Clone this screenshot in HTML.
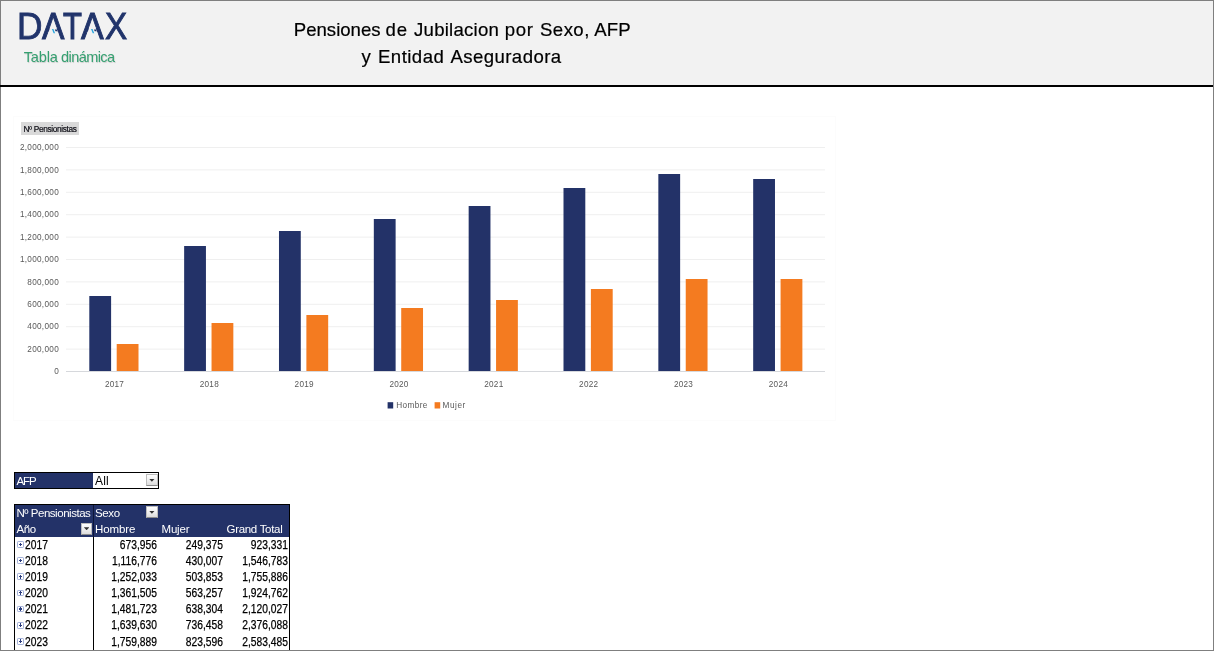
<!DOCTYPE html>
<html lang="es">
<head>
<meta charset="utf-8">
<title>Pensiones de Jubilacion por Sexo, AFP y Entidad Aseguradora</title>
<style>
  html, body { margin: 0; padding: 0; }
  body {
    width: 1214px; height: 651px; overflow: hidden; position: relative;
    background: #ffffff;
    font-family: "Liberation Sans", sans-serif;
  }
  .abs { position: absolute; }
  #frame { left: 0; top: 0; width: 1212px; height: 649px; border: 1px solid #7f7f7f; z-index: 50; pointer-events: none; }
  #hdr { left: 1px; top: 1px; width: 1212px; height: 84px; background: #f2f2f2; }
  #hline { left: 0; top: 85px; width: 1213px; z-index: 60; height: 2px; background: #000; }

  /* logo */
  #logo { left: 0; top: 4px; font-size: 37.25px; line-height: 44px; height: 44px; white-space: nowrap; color: #21346b; }
  .lg { display: inline-block; position: relative; width: 0; transform-origin: 0 0; -webkit-text-stroke: 0.85px #21346b; }
  .pa { position: absolute; overflow: visible; transform-origin: 0 0; }
  #sub { left: 0; top: 48.4px; font-size: 14.5px; line-height: 18px; height: 18px; color: #35a070; white-space: pre; text-shadow: 0.6px 0.6px 0.8px rgba(0,0,0,0.15); }
  .sw { display: inline-block; width: 0; }

  /* title */
  .tl { left: 0; height: 24px; font-size: 18.6px; line-height: 24px; color: #000; white-space: pre; }
  .tw { display: inline-block; width: 0; -webkit-text-stroke: 0.2px #000; }

  /* chart */
  #chart { left: 0; top: 0; }
  #fbtn { left: 21px; top: 122px; width: 58px; height: 13px; background: #d9d9d9; font-size: 8.3px; line-height: 15px; text-align: center; color: #101018; letter-spacing: -0.35px; white-space: pre; -webkit-text-stroke: 0.2px #101018; overflow: hidden; }

  /* pivot */
  .cell { position: absolute; white-space: pre; font-size: 11.2px; line-height: 16px; letter-spacing: -0.5px; color: #000; }
  .w { color: #fff; }
  .hd { font-size: 11.5px; }
  .r { text-align: right; }
  .num { font-size: 12.3px; letter-spacing: 0; transform: scaleX(0.835); transform-origin: 100% 50%; -webkit-text-stroke: 0.25px #000; }
  .dd { position: absolute; width: 11.4px; height: 12.4px; background: linear-gradient(#ffffff, #ececec 60%, #dcdcdc); border: 1px solid #bdbdbd; border-bottom: 1.3px solid #8c8c8c; box-sizing: border-box; }
  .dd:after { content: ""; position: absolute; left: 1.8px; top: 3.7px; width: 5.6px; height: 3px; background: #333; clip-path: polygon(0 0, 100% 0, 50% 100%); }
  .ex { position: absolute; left: 17.2px; width: 6.8px; height: 6.8px; box-sizing: border-box; border: 1px solid #a3b1da; border-radius: 1.2px; background: #fff; }
  .ex:before { content: ""; position: absolute; left: 0.6px; top: 1.8px; width: 3.6px; height: 1.2px; background: #2c3d7d; }
  .ex:after { content: ""; position: absolute; left: 1.8px; top: 0.6px; width: 1.2px; height: 3.6px; background: #2c3d7d; }
</style>
</head>
<body>
<div id="hdr" class="abs"></div>
<div id="hline" class="abs"></div>

<!-- LOGO -->
<div id="logo" class="abs"><span class="lg" style="margin-left:16.88px;transform:scaleX(0.947);-webkit-text-stroke-width:0.8px;">D</span><span class="lg" style="margin-left:25.19px;transform:scaleX(0.902);-webkit-text-stroke-width:0.95px;">A</span><span class="lg" style="margin-left:21.11px;transform:scaleX(0.831);-webkit-text-stroke-width:1.1px;">T</span><span class="lg" style="margin-left:17.70px;transform:scaleX(0.913);-webkit-text-stroke-width:0.95px;">A</span><span class="lg" style="margin-left:23.88px;transform:scaleX(0.892);-webkit-text-stroke-width:0.95px;">X</span></div>
<svg class="pa" style="left:42.07px;top:4px;transform:scaleX(0.902);" width="26" height="44" viewBox="0 0 26 44"><g transform="translate(0,35) scale(0.98) translate(0,-35)"><polygon points="9.35,22.9 16.05,22.9 18.6,29.3 6.8,29.3" fill="#f2f2f2"/><polygon points="11.2,24.8 12.9,24.8 14.8,29.1 13.1,29.1" fill="#2aa7df"/><polygon points="14.5,25.2 16.6,25.2 17.4,27.2 15.3,27.2" fill="#21346b"/></g></svg>
<svg class="pa" style="left:80.88px;top:4px;transform:scaleX(0.913);" width="26" height="44" viewBox="0 0 26 44"><g transform="translate(0,35) scale(0.98) translate(0,-35)"><polygon points="9.35,22.9 16.05,22.9 18.6,29.3 6.8,29.3" fill="#f2f2f2"/><polygon points="11.2,24.8 12.9,24.8 14.8,29.1 13.1,29.1" fill="#2aa7df"/><polygon points="14.5,25.2 16.6,25.2 17.4,27.2 15.3,27.2" fill="#21346b"/></g></svg>
<div id="sub" class="abs"><span class="sw" style="margin-left:23.72px;letter-spacing:-0.15px;">Tabla </span><span class="sw" style="margin-left:37.30px;letter-spacing:-0.561px;">dinámica</span></div>

<!-- TITLE -->
<div id="title">
<div class="tl abs" style="top:17.7px;"><span class="tw" style="margin-left:293.82px;letter-spacing:-0.009px;">Pensiones </span><span class="tw" style="margin-left:91.68px;letter-spacing:1.000px;">de </span><span class="tw" style="margin-left:28.55px;letter-spacing:0.236px;">Jubilacion </span><span class="tw" style="margin-left:90.83px;letter-spacing:0.600px;">por </span><span class="tw" style="margin-left:35.17px;letter-spacing:0.438px;">Sexo, </span><span class="tw" style="margin-left:54.28px;letter-spacing:0.112px;">AFP</span></div>
<div class="tl abs" style="top:45.3px;"><span class="tw" style="margin-left:361.50px;letter-spacing:0.000px;">y </span><span class="tw" style="margin-left:16.52px;letter-spacing:0.446px;">Entidad </span><span class="tw" style="margin-left:72.40px;letter-spacing:0.425px;">Aseguradora</span></div>
</div>

<!-- CHART -->
<svg id="chart" class="abs" width="1214" height="651" viewBox="0 0 1214 651" font-family="Liberation Sans, sans-serif">
<rect x="13.5" y="116.5" width="822" height="304" fill="none" stroke="#fcfcfc" stroke-width="1"/>
<rect x="66.0" y="348.60" width="759.0" height="1" fill="#efefef"/>
<rect x="66.0" y="326.20" width="759.0" height="1" fill="#efefef"/>
<rect x="66.0" y="303.80" width="759.0" height="1" fill="#efefef"/>
<rect x="66.0" y="281.40" width="759.0" height="1" fill="#efefef"/>
<rect x="66.0" y="259.00" width="759.0" height="1" fill="#efefef"/>
<rect x="66.0" y="236.60" width="759.0" height="1" fill="#efefef"/>
<rect x="66.0" y="214.20" width="759.0" height="1" fill="#efefef"/>
<rect x="66.0" y="191.80" width="759.0" height="1" fill="#efefef"/>
<rect x="66.0" y="169.40" width="759.0" height="1" fill="#efefef"/>
<rect x="66.0" y="147.00" width="759.0" height="1" fill="#efefef"/>
<rect x="66.0" y="371.00" width="759.0" height="1" fill="#d6d8dc"/>
<rect x="89.30" y="296" width="21.8" height="75.00" fill="#233268"/>
<rect x="116.70" y="344" width="21.8" height="27.00" fill="#f47b20"/>
<rect x="184.14" y="246" width="21.8" height="125.00" fill="#233268"/>
<rect x="211.54" y="323" width="21.8" height="48.00" fill="#f47b20"/>
<rect x="278.98" y="231" width="21.8" height="140.00" fill="#233268"/>
<rect x="306.38" y="315" width="21.8" height="56.00" fill="#f47b20"/>
<rect x="373.82" y="219" width="21.8" height="152.00" fill="#233268"/>
<rect x="401.22" y="308" width="21.8" height="63.00" fill="#f47b20"/>
<rect x="468.66" y="206" width="21.8" height="165.00" fill="#233268"/>
<rect x="496.06" y="300" width="21.8" height="71.00" fill="#f47b20"/>
<rect x="563.50" y="188" width="21.8" height="183.00" fill="#233268"/>
<rect x="590.90" y="289" width="21.8" height="82.00" fill="#f47b20"/>
<rect x="658.34" y="174" width="21.8" height="197.00" fill="#233268"/>
<rect x="685.74" y="279" width="21.8" height="92.00" fill="#f47b20"/>
<rect x="753.18" y="179" width="21.8" height="192.00" fill="#233268"/>
<rect x="780.58" y="279" width="21.8" height="92.00" fill="#f47b20"/>
<g font-size="8.2" fill="#595959" text-anchor="end" letter-spacing="0.3">
<text x="59.0" y="374.10">0</text>
<text x="59.0" y="351.70">200,000</text>
<text x="59.0" y="329.30">400,000</text>
<text x="59.0" y="306.90">600,000</text>
<text x="59.0" y="284.50">800,000</text>
<text x="59.0" y="262.10">1,000,000</text>
<text x="59.0" y="239.70">1,200,000</text>
<text x="59.0" y="217.30">1,400,000</text>
<text x="59.0" y="194.90">1,600,000</text>
<text x="59.0" y="172.50">1,800,000</text>
<text x="59.0" y="150.10">2,000,000</text>
</g>
<g font-size="8.2" fill="#595959" text-anchor="middle" letter-spacing="0.25">
<text x="114.52" y="386.6">2017</text>
<text x="209.36" y="386.6">2018</text>
<text x="304.20" y="386.6">2019</text>
<text x="399.04" y="386.6">2020</text>
<text x="493.88" y="386.6">2021</text>
<text x="588.72" y="386.6">2022</text>
<text x="683.56" y="386.6">2023</text>
<text x="778.40" y="386.6">2024</text>
</g>
<rect x="387.6" y="402.2" width="5.6" height="6.3" fill="#233268"/>
<text x="396.2" y="408" font-size="8.2" fill="#595959" letter-spacing="0.42">Hombre</text>
<rect x="434.6" y="402.2" width="5.6" height="6.3" fill="#f47b20"/>
<text x="442.6" y="408" font-size="8.2" fill="#595959" letter-spacing="0.55">Mujer</text>
</svg>
<div id="fbtn" class="abs">Nº Pensionistas</div>

<!-- PIVOT -->
<div class="abs" style="left:14px;top:472px;width:145px;height:17px;background:#000;"></div>
<div class="abs" style="left:15px;top:473px;width:78px;height:15px;background:#233268;"></div>
<div class="abs" style="left:93px;top:473px;width:65px;height:15px;background:#fff;"></div>
<div class="cell w" style="left:16.5px;top:472.5px;font-size:11.5px;letter-spacing:-1.1px;">AFP</div>
<div class="cell" style="left:95px;top:473.2px;letter-spacing:0.2px;font-size:12px;">All</div>
<div class="dd" style="left:146.3px;top:474px;"></div>
<div class="abs" style="left:14px;top:504px;width:276px;height:147px;background:#000;"></div>
<div class="abs" style="left:15px;top:505px;width:274px;height:32px;background:#233268;"></div>
<div class="abs" style="left:15px;top:537px;width:78px;height:114px;background:#fff;"></div>
<div class="abs" style="left:94px;top:537px;width:195px;height:114px;background:#fff;"></div>
<div class="abs" style="left:93px;top:505px;width:1px;height:32px;background:#0d1538;"></div>
<div class="cell w hd" style="left:16.5px;top:504.5px;letter-spacing:-0.47px;">Nº Pensionistas</div>
<div class="cell w hd" style="left:95px;top:504.5px;letter-spacing:-0.35px;">Sexo</div>
<div class="dd" style="left:146.3px;top:506px;"></div>
<div class="cell w hd" style="left:16.5px;top:520.5px;letter-spacing:-0.35px;">Año</div>
<div class="dd" style="left:81px;top:522.5px;"></div>
<div class="cell w hd" style="left:95px;top:520.5px;letter-spacing:-0.1px;">Hombre</div>
<div class="cell w hd" style="left:161.5px;top:520.5px;letter-spacing:-0.2px;">Mujer</div>
<div class="cell w hd" style="left:226.5px;top:520.5px;letter-spacing:-0.3px;">Grand Total</div>
<div class="ex" style="top:541.1px;"></div>
<div class="cell num" style="left:25px;top:537px;transform-origin:0 50%;transform:translateY(-0.20px) scaleX(0.835);">2017</div>
<div class="cell r num" style="left:94px;width:62.9px;top:537px;transform:translateY(-0.20px) scaleX(0.835);">673,956</div>
<div class="cell r num" style="left:160px;width:62.9px;top:537px;transform:translateY(-0.20px) scaleX(0.835);">249,375</div>
<div class="cell r num" style="left:225px;width:62.9px;top:537px;transform:translateY(-0.20px) scaleX(0.835);">923,331</div>
<div class="ex" style="top:557.2px;"></div>
<div class="cell num" style="left:25px;top:553px;transform-origin:0 50%;transform:translateY(-0.07px) scaleX(0.835);">2018</div>
<div class="cell r num" style="left:94px;width:62.9px;top:553px;transform:translateY(-0.07px) scaleX(0.835);">1,116,776</div>
<div class="cell r num" style="left:160px;width:62.9px;top:553px;transform:translateY(-0.07px) scaleX(0.835);">430,007</div>
<div class="cell r num" style="left:225px;width:62.9px;top:553px;transform:translateY(-0.07px) scaleX(0.835);">1,546,783</div>
<div class="ex" style="top:573.4px;"></div>
<div class="cell num" style="left:25px;top:569px;transform-origin:0 50%;transform:translateY(0.06px) scaleX(0.835);">2019</div>
<div class="cell r num" style="left:94px;width:62.9px;top:569px;transform:translateY(0.06px) scaleX(0.835);">1,252,033</div>
<div class="cell r num" style="left:160px;width:62.9px;top:569px;transform:translateY(0.06px) scaleX(0.835);">503,853</div>
<div class="cell r num" style="left:225px;width:62.9px;top:569px;transform:translateY(0.06px) scaleX(0.835);">1,755,886</div>
<div class="ex" style="top:589.5px;"></div>
<div class="cell num" style="left:25px;top:585px;transform-origin:0 50%;transform:translateY(0.19px) scaleX(0.835);">2020</div>
<div class="cell r num" style="left:94px;width:62.9px;top:585px;transform:translateY(0.19px) scaleX(0.835);">1,361,505</div>
<div class="cell r num" style="left:160px;width:62.9px;top:585px;transform:translateY(0.19px) scaleX(0.835);">563,257</div>
<div class="cell r num" style="left:225px;width:62.9px;top:585px;transform:translateY(0.19px) scaleX(0.835);">1,924,762</div>
<div class="ex" style="top:605.6px;"></div>
<div class="cell num" style="left:25px;top:601px;transform-origin:0 50%;transform:translateY(0.32px) scaleX(0.835);">2021</div>
<div class="cell r num" style="left:94px;width:62.9px;top:601px;transform:translateY(0.32px) scaleX(0.835);">1,481,723</div>
<div class="cell r num" style="left:160px;width:62.9px;top:601px;transform:translateY(0.32px) scaleX(0.835);">638,304</div>
<div class="cell r num" style="left:225px;width:62.9px;top:601px;transform:translateY(0.32px) scaleX(0.835);">2,120,027</div>
<div class="ex" style="top:621.8px;"></div>
<div class="cell num" style="left:25px;top:617px;transform-origin:0 50%;transform:translateY(0.45px) scaleX(0.835);">2022</div>
<div class="cell r num" style="left:94px;width:62.9px;top:617px;transform:translateY(0.45px) scaleX(0.835);">1,639,630</div>
<div class="cell r num" style="left:160px;width:62.9px;top:617px;transform:translateY(0.45px) scaleX(0.835);">736,458</div>
<div class="cell r num" style="left:225px;width:62.9px;top:617px;transform:translateY(0.45px) scaleX(0.835);">2,376,088</div>
<div class="ex" style="top:637.9px;"></div>
<div class="cell num" style="left:25px;top:633px;transform-origin:0 50%;transform:translateY(0.58px) scaleX(0.835);">2023</div>
<div class="cell r num" style="left:94px;width:62.9px;top:633px;transform:translateY(0.58px) scaleX(0.835);">1,759,889</div>
<div class="cell r num" style="left:160px;width:62.9px;top:633px;transform:translateY(0.58px) scaleX(0.835);">823,596</div>
<div class="cell r num" style="left:225px;width:62.9px;top:633px;transform:translateY(0.58px) scaleX(0.835);">2,583,485</div>

<div id="frame" class="abs"></div>
</body>
</html>
